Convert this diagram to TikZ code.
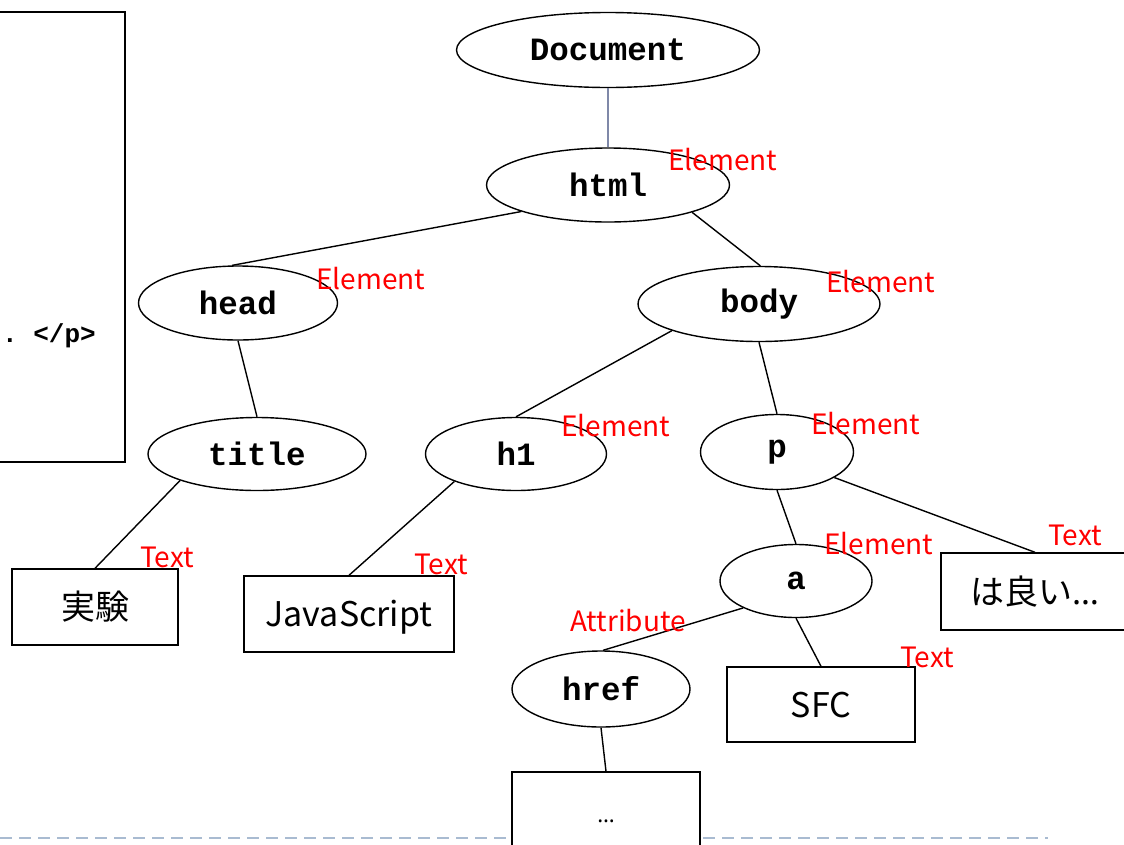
\documentclass[tikz,border=0pt]{standalone}
\usepackage{fontspec}
\setmonofont{Liberation Mono}
\newfontfamily\jpfont{Noto Sans CJK JP}
\newfontfamily\latfont{Noto Sans}
\usetikzlibrary{shapes.geometric}
\definecolor{dashblue}{HTML}{A9BBD1}
\definecolor{docline}{HTML}{7F88A8}
\newcommand{\lowtxt}[1]{\raisebox{-9pt}{#1}}
\begin{document}
\begin{tikzpicture}[x=1pt,y=-1pt,
  el/.style={ellipse,draw,line width=1.4pt,fill=white,inner sep=0pt,
    font=\ttfamily\bfseries\fontsize{32.5}{32.5}\selectfont},
  tb/.style={rectangle,draw,line width=1.4pt,fill=white,inner sep=0pt,
    text height=0.88em,text depth=0.12em,
    font=\jpfont\fontsize{34}{34}\selectfont},
  lbl/.style={text=red,font=\jpfont\fontsize{28}{28}\selectfont,inner sep=0pt,anchor=west},
  conn/.style={line width=1.4pt},
  dashline/.style={draw=dashblue,line width=2pt,dash pattern=on 12pt off 7pt}]
\useasboundingbox (0,0) rectangle (1124,844);
% dashed base line
\coordinate (dl) at (0,838);
\coordinate (dr) at (1048,838);
\draw[dashline] (dl) -- (dr);
% source box at left
\node[draw,line width=1.4pt,inner sep=0pt,minimum width=135pt,minimum height=450pt] (src) at (57.5,237) {};
\node[anchor=east,inner sep=0pt,font=\ttfamily\bfseries\fontsize{26}{26}\selectfont] (srctxt) at (96,336) {. </p>};
% tree nodes
\node[el,minimum width=303pt,minimum height=75pt] (doc) at (608,50) {Document};
\node[el,minimum width=243pt,minimum height=74pt] (html) at (608,185) {html};
\node[el,minimum width=199pt,minimum height=74pt] (head) at (238,303) {head};
\node[el,minimum width=242pt,minimum height=75pt] (body) at (759,304) {body};
\node[el,minimum width=218pt,minimum height=73pt] (title) at (257,454) {title};
\node[el,minimum width=181pt,minimum height=73pt] (h1) at (516,454) {h1};
\node[el,minimum width=153pt,minimum height=75pt] (p) at (777,452) {p};
\node[el,minimum width=152pt,minimum height=73pt] (a) at (796,581) {a};
\node[el,minimum width=178pt,minimum height=76pt] (href) at (601,689) {href};
\node[tb,minimum width=166pt,minimum height=76pt] (jikken) at (95,607) {\lowtxt{実験}};
\node[tb,minimum width=210pt,minimum height=76pt] (js) at (349,614) {\lowtxt{JavaScript}};
\node[tb,minimum width=188pt,minimum height=77pt] (yoi) at (1035,591.5) {\lowtxt{は良い{\latfont …}}};
\node[tb,minimum width=188pt,minimum height=75pt] (sfc) at (821,704.5) {\lowtxt{SFC}};
\node[tb,minimum width=188pt,minimum height=76pt,font=\latfont\fontsize{22}{22}\selectfont] (dots) at (606,810) {\lowtxt{…}};
% connectors
\draw[conn,draw=docline] (doc.south) -- (html.north);
\draw[conn] (html.197) -- (head.99);
\draw[conn] (html.-18) -- (body.88);
\draw[conn] (head.south) -- (title.north);
\draw[conn] (body.197) -- (h1.north);
\draw[conn] (body.south) -- (p.north);
\draw[conn] (title.199) -- (jikken.north);
\draw[conn] (h1.204) -- (js.north);
\draw[conn] (p.south) -- (a.north);
\draw[conn] (p.-24) -- (yoi.north);
\draw[conn] (a.207) -- (href.87);
\draw[conn] (a.south) -- (sfc.north);
\draw[conn] (href.south) -- (dots.north);
% red labels
\node[lbl] (l1) at (668,160) {Element};
\node[lbl] (l2) at (316,279) {Element};
\node[lbl] (l3) at (826,282) {Element};
\node[lbl] (l4) at (561,426) {Element};
\node[lbl] (l5) at (811,424) {Element};
\node[lbl] (l6) at (824,544) {Element};
\node[lbl] (l7) at (140,557) {Text};
\node[lbl] (l8) at (414,564) {Text};
\node[lbl] (l9) at (1048,535) {Text};
\node[lbl] (l10) at (570,621) {Attribute};
\node[lbl] (l11) at (900,657) {Text};
\end{tikzpicture}
\end{document}
